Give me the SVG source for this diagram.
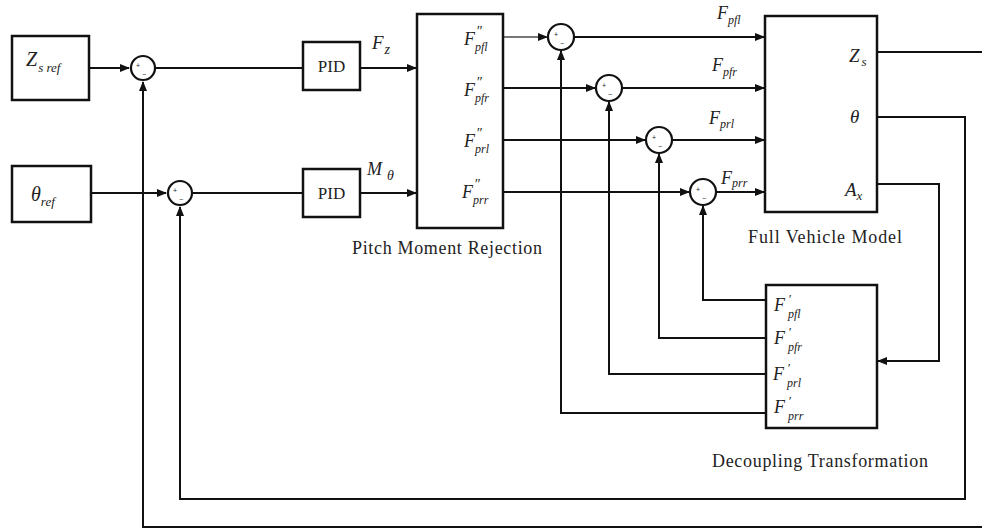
<svg xmlns="http://www.w3.org/2000/svg" width="982" height="529" viewBox="0 0 982 529">
<defs>
<marker id="ar" markerWidth="10" markerHeight="8" refX="9" refY="4" orient="auto" markerUnits="userSpaceOnUse">
<path d="M0,0 L10,4 L0,8 Z" fill="#111"/>
</marker>
<style>
.box{fill:#fff;stroke:#111;stroke-width:2.5}
.sum{fill:#fff;stroke:#111;stroke-width:2.2}
.ln{fill:none;stroke:#111;stroke-width:2}
.it{font-family:"Liberation Serif",serif;font-style:italic;fill:#222}
.cap{font-family:"Liberation Serif",serif;font-size:18px;fill:#222}
.pid{font-family:"Liberation Serif",serif;font-size:17px;fill:#222}
.sg{font-family:"Liberation Sans",sans-serif;font-size:7px;fill:#222}
</style>
</defs>
<rect width="982" height="529" fill="#fff"/>

<g id="connectors">
<path class="ln" d="M89,68 H129" marker-end="url(#ar)"/>
<path class="ln" d="M156,68 H303"/>
<path class="ln" d="M360,68 H416" marker-end="url(#ar)"/>
<path class="ln" d="M91,193 H166" marker-end="url(#ar)"/>
<path class="ln" d="M193,193 H303"/>
<path class="ln" d="M360,193 H416" marker-end="url(#ar)"/>
<path class="ln" d="M503,37 H547" marker-end="url(#ar)" style="stroke:#777"/>
<path class="ln" d="M575,37 H764" marker-end="url(#ar)"/>
<path class="ln" d="M503,88 H595" marker-end="url(#ar)"/>
<path class="ln" d="M623,88 H764" marker-end="url(#ar)"/>
<path class="ln" d="M503,140 H645" marker-end="url(#ar)"/>
<path class="ln" d="M673,140 H764" marker-end="url(#ar)"/>
<path class="ln" d="M503,192 H689" marker-end="url(#ar)"/>
<path class="ln" d="M717,192 H764" marker-end="url(#ar)"/>
<path class="ln" d="M877,52 H985 V527 H143 V82" marker-end="url(#ar)"/>
<path class="ln" d="M877,117 H965 V499 H180 V207" marker-end="url(#ar)"/>
<path class="ln" d="M877,184 H939 V361 H878" marker-end="url(#ar)"/>
<path class="ln" d="M766,300 H703 V206" marker-end="url(#ar)"/>
<path class="ln" d="M766,338 H659 V154" marker-end="url(#ar)"/>
<path class="ln" d="M766,374 H609 V102" marker-end="url(#ar)"/>
<path class="ln" d="M766,413 H561 V51" marker-end="url(#ar)"/>
</g>

<g id="zsref">
<rect class="box" x="12" y="36" width="77" height="64"/>
<text class="it" x="26" y="66" font-size="20">Z<tspan font-size="13" dy="6" dx="1">s ref</tspan></text>
</g>
<g id="thetaref">
<rect class="box" x="12" y="166" width="79" height="56"/>
<text class="it" x="31" y="201" font-size="20">θ<tspan font-size="13" dy="5">ref</tspan></text>
</g>

<g id="sum1"><circle class="sum" cx="143" cy="68" r="12"/><text class="sg" x="136" y="68">+</text><text class="sg" x="142" y="77">−</text></g>
<g id="sum2"><circle class="sum" cx="180" cy="193" r="12"/><text class="sg" x="173" y="193">+</text><text class="sg" x="179" y="202">−</text></g>
<g id="sumfl"><circle class="sum" cx="561" cy="37" r="13"/><text class="sg" x="554" y="37">+</text><text class="sg" x="560" y="46">−</text></g>
<g id="sumfr"><circle class="sum" cx="609" cy="88" r="13"/><text class="sg" x="602" y="88">+</text><text class="sg" x="608" y="97">−</text></g>
<g id="sumrl"><circle class="sum" cx="659" cy="140" r="13"/><text class="sg" x="652" y="140">+</text><text class="sg" x="658" y="149">−</text></g>
<g id="sumrr"><circle class="sum" cx="703" cy="192" r="13"/><text class="sg" x="696" y="192">+</text><text class="sg" x="702" y="201">−</text></g>

<g id="pid1">
<rect class="box" x="303" y="42" width="57" height="48"/>
<text class="pid" x="331.5" y="72" text-anchor="middle">PID</text>
</g>
<g id="pid2">
<rect class="box" x="303" y="169" width="57" height="48"/>
<text class="pid" x="331.5" y="199" text-anchor="middle">PID</text>
</g>
<g id="labels-pid">
<text class="it" x="372" y="49" font-size="19">F<tspan font-size="14" dy="5" dx="1">z</tspan></text>
<text class="it" x="367" y="175" font-size="18">M<tspan font-size="14" dy="5" dx="5">θ</tspan></text>
</g>

<g id="pmr">
<rect class="box" x="417" y="14" width="86" height="214"/>
<text class="it" font-size="18" x="464" y="45">F</text><text class="it" font-size="14" x="476" y="36">″</text><text class="it" font-size="12" x="475" y="51">pfl</text>
<text class="it" font-size="18" x="464" y="96">F</text><text class="it" font-size="14" x="476" y="87">″</text><text class="it" font-size="12" x="475" y="102">pfr</text>
<text class="it" font-size="18" x="464" y="147">F</text><text class="it" font-size="14" x="476" y="138">″</text><text class="it" font-size="12" x="475" y="153">prl</text>
<text class="it" font-size="18" x="462" y="198">F</text><text class="it" font-size="14" x="474" y="189">″</text><text class="it" font-size="12" x="473" y="204">prr</text>
<text class="cap" x="447" y="254" text-anchor="middle" textLength="190">Pitch Moment Rejection</text>
</g>

<g id="fvm">
<rect class="box" x="765" y="16" width="112" height="196"/>
<text class="it" font-size="19" x="849" y="62">Z<tspan font-size="13" dy="4" dx="2">s</tspan></text>
<text class="it" font-size="19" x="850" y="123">θ</text>
<text class="it" font-size="19" x="845" y="196">A<tspan font-size="13" dy="4">x</tspan></text>
<text class="cap" x="825" y="243" text-anchor="middle" textLength="154">Full Vehicle Model</text>
</g>
<g id="fvm-inputs">
<text class="it" font-size="18" x="717" y="19">F<tspan font-size="12" dy="5">pfl</tspan></text>
<text class="it" font-size="18" x="712" y="71">F<tspan font-size="12" dy="5">pfr</tspan></text>
<text class="it" font-size="18" x="709" y="124">F<tspan font-size="12" dy="4">prl</tspan></text>
<text class="it" font-size="18" x="721" y="184">F<tspan font-size="12" dy="3">prr</tspan></text>
</g>

<g id="dt">
<rect class="box" x="766" y="285" width="111" height="143"/>
<text class="it" font-size="18" x="774" y="311">F</text><text class="it" font-size="13" x="788" y="303">′</text><text class="it" font-size="12" x="788" y="318">pfl</text>
<text class="it" font-size="18" x="774" y="344">F</text><text class="it" font-size="13" x="788" y="336">′</text><text class="it" font-size="12" x="788" y="351">pfr</text>
<text class="it" font-size="18" x="773" y="380">F</text><text class="it" font-size="13" x="787" y="372">′</text><text class="it" font-size="12" x="787" y="387">prl</text>
<text class="it" font-size="18" x="774" y="413">F</text><text class="it" font-size="13" x="788" y="405">′</text><text class="it" font-size="12" x="788" y="420">prr</text>
<text class="cap" x="820" y="467" text-anchor="middle" textLength="216">Decoupling Transformation</text>
</g>
</svg>
